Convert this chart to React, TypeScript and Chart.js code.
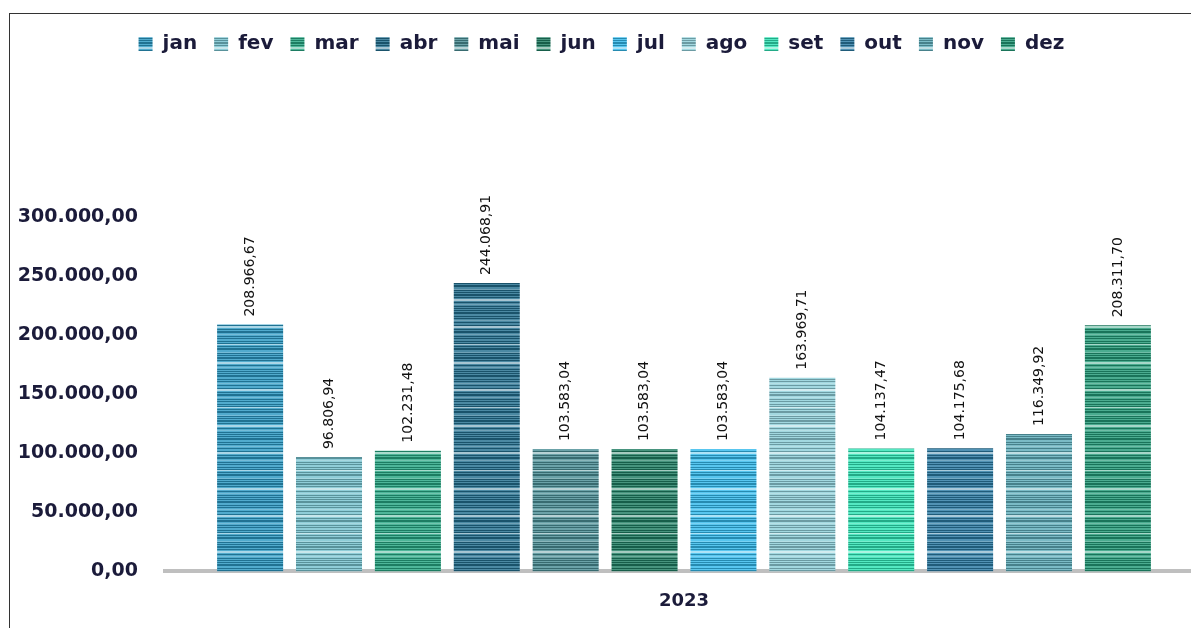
import React, { useEffect, useRef } from "react";
import { Chart, registerables } from "chart.js";

Chart.register(...registerables);

const categories = ["2023"];
const months = ["jan", "fev", "mar", "abr", "mai", "jun", "jul", "ago", "set", "out", "nov", "dez"];
const values = [
  208966.67, 96806.94, 102231.48, 244068.91, 103583.04, 103583.04, 103583.04, 163969.71, 104137.47,
  104175.68, 116349.92, 208311.7,
];
const colors = [
  "#2b98c2", "#76c2cf", "#27a683", "#236f8f", "#4b8e95", "#1f7d62",
  "#33b9ec", "#8ecfd9", "#2fe3b4", "#2b7aa3", "#5eacb9", "#239a78",
];
const yTicks = [0, 50000, 100000, 150000, 200000, 250000, 300000];

const STRIPE = "ndndnlndnndLLndnddnlndndnndndLndnddnnldndnddndnLLndnlndndndnddn";

function fmt(v: number): string {
  const fixed = v.toFixed(2);
  const [intPart, dec] = fixed.split(".");
  const withDots = intPart.replace(/\B(?=(\d{3})+(?!\d))/g, ".");
  return withDots + "," + dec;
}

function hexToRgb(hex: string) {
  const n = parseInt(hex.slice(1), 16);
  return [(n >> 16) & 255, (n >> 8) & 255, n & 255];
}

function mix(rgb: number[], target: number, t: number) {
  return rgb.map((c) => Math.round(c + (target - c) * t));
}

function makePattern(hex: string): CanvasPattern | string {
  const c = document.createElement("canvas");
  c.width = 4;
  c.height = STRIPE.length;
  const ctx = c.getContext("2d");
  if (!ctx) return hex;
  const base = hexToRgb(hex);
  for (let r = 0; r < STRIPE.length; r++) {
    const k = STRIPE[r];
    let rgb = base;
    if (k === "d") rgb = mix(base, 0, 0.25);
    else if (k === "l") rgb = mix(base, 255, 0.35);
    else if (k === "L") rgb = mix(base, 255, 0.6);
    else rgb = mix(base, 255, 0.18);
    ctx.fillStyle = `rgb(${rgb[0]},${rgb[1]},${rgb[2]})`;
    ctx.fillRect(0, r, 4, 1);
  }
  const main = document.createElement("canvas").getContext("2d");
  const p = main ? main.createPattern(c, "repeat") : null;
  return p || hex;
}

const TEXT = "#1b1b3a";

export default function App() {
  const ref = useRef<HTMLCanvasElement | null>(null);

  useEffect(() => {
    if (!ref.current) return;
    const datasets = months.map((m, i) => ({
      label: m,
      data: [values[i]],
      backgroundColor: makePattern(colors[i]),
      borderWidth: 0,
    }));

    const labelPlugin = {
      id: "barLabels",
      afterDatasetsDraw(chart: any) {
        const ctx = chart.ctx;
        chart.data.datasets.forEach((ds: any, i: number) => {
          const meta = chart.getDatasetMeta(i);
          const bar = meta.data[0];
          if (!bar) return;
          ctx.save();
          ctx.translate(bar.x, bar.y - 8);
          ctx.rotate(-Math.PI / 2);
          ctx.font = '14px "DejaVu Sans"';
          ctx.fillStyle = "#111";
          ctx.textAlign = "left";
          ctx.textBaseline = "middle";
          ctx.fillText(fmt(ds.data[0]), 0, 0);
          ctx.restore();
        });
      },
    };

    const legendSpacer = {
      id: "legendSpacer",
      beforeLayout(chart: any) {
        const lg = chart.legend;
        if (lg && !lg._patched) {
          const orig = lg.fit;
          lg.fit = function () {
            orig.call(this);
            this.height += 153;
          };
          lg._patched = true;
        }
      },
    };

    Chart.defaults.font.family = '"DejaVu Sans"';

    const chart = new Chart(ref.current, {
      type: "bar",
      data: { labels: categories, datasets },
      options: {
        responsive: false,
        devicePixelRatio: 1,
        animation: false,
        layout: { padding: { top: 17, right: 7, bottom: 5, left: 0 } },
        datasets: {
          bar: { categoryPercentage: 0.912, barPercentage: 0.837 },
        },
        plugins: {
          legend: {
            position: "top",
            labels: {
              boxWidth: 14,
              boxHeight: 14,
              padding: 17,
              color: TEXT,
              font: { size: 20, weight: "bold" },
            },
          },
          tooltip: { enabled: false },
        },
        scales: {
          x: {
            grid: { display: false },
            border: { display: true, color: "#bfbfbf", width: 4 },
            ticks: { color: TEXT, padding: 11, font: { size: 18, weight: "bold" } },
          },
          y: {
            min: 0,
            max: 300000,
            afterFit(scale: any) {
              scale.width = 165;
            },
            afterBuildTicks(scale: any) {
              scale.ticks = yTicks.map((v) => ({ value: v }));
            },
            grid: { display: false },
            border: { display: false },
            ticks: {
              color: TEXT,
              padding: 19,
              font: { size: 19, weight: "bold" },
              callback: (v: any) => fmt(Number(v)),
            },
          },
        },
      },
      plugins: [labelPlugin, legendSpacer],
    });
    return () => chart.destroy();
  }, []);

  return (
    <div
      style={{
        position: "fixed",
        left: 0,
        top: 0,
        width: 1191,
        height: 628,
        overflow: "hidden",
        background: "#fff",
      }}
    >
      <canvas ref={ref} width={1210} height={628} style={{ display: "block", width: 1210, height: 628 }} />
      <div
        style={{
          position: "absolute",
          left: 9,
          top: 13,
          width: 2000,
          height: 2000,
          borderLeft: "1px solid #333",
          borderTop: "1px solid #333",
          pointerEvents: "none",
        }}
      />
    </div>
  );
}
